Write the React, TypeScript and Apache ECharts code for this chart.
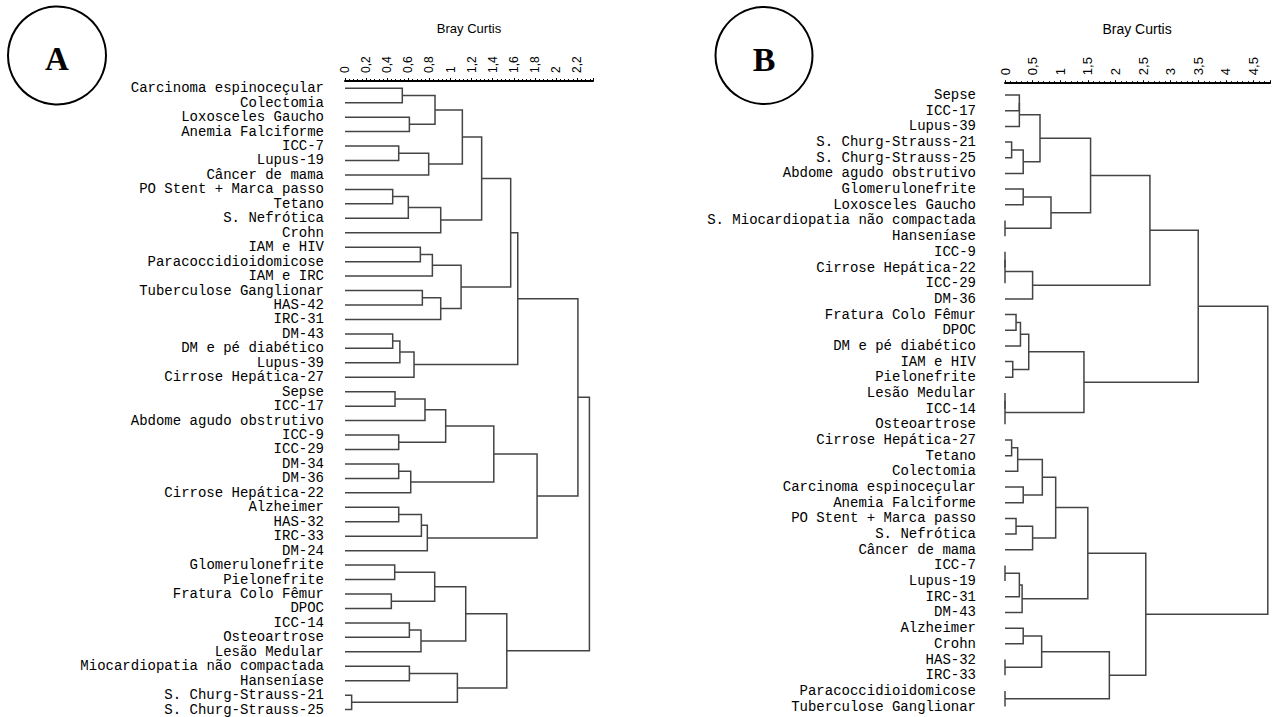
import React, { useEffect, useRef } from "react";
import * as echarts from "echarts";

// ---------- Panel A ----------
const leavesA: string[] = [
  "Carcinoma espinoceçular", "Colectomia", "Loxosceles Gaucho", "Anemia Falciforme",
  "ICC-7", "Lupus-19", "Câncer de mama", "PO Stent + Marca passo", "Tetano",
  "S. Nefrótica", "Crohn", "IAM e HIV", "Paracoccidioidomicose", "IAM e IRC",
  "Tuberculose Ganglionar", "HAS-42", "IRC-31", "DM-43", "DM e pé diabético",
  "Lupus-39", "Cirrose Hepática-27", "Sepse", "ICC-17", "Abdome agudo obstrutivo",
  "ICC-9", "ICC-29", "DM-34", "DM-36", "Cirrose Hepática-22", "Alzheimer",
  "HAS-32", "IRC-33", "DM-24", "Glomerulonefrite", "Pielonefrite",
  "Fratura Colo Fêmur", "DPOC", "ICC-14", "Osteoartrose", "Lesão Medular",
  "Miocardiopatia não compactada", "Hanseníase", "S. Churg-Strauss-21", "S. Churg-Strauss-25",
];
// linkage: [childA, childB, height]; ids < n are leaves, n+k is merge k
const mergesA: [number, number, number][] = [
  [0, 1, 0.543], [2, 3, 0.61], [44, 45, 0.853], [4, 5, 0.509], [47, 6, 0.793],
  [46, 48, 1.112], [7, 8, 0.452], [50, 9, 0.6], [51, 10, 0.907], [49, 52, 1.295],
  [11, 12, 0.714], [54, 13, 0.828], [14, 15, 0.733], [56, 16, 0.907], [55, 57, 1.1],
  [53, 58, 1.57], [17, 18, 0.452], [60, 19, 0.52], [61, 20, 0.654], [59, 62, 1.637],
  [21, 22, 0.474], [64, 23, 0.758], [24, 25, 0.509], [65, 66, 0.954], [26, 27, 0.509],
  [68, 28, 0.623], [67, 69, 1.41], [29, 30, 0.509], [71, 31, 0.724], [72, 32, 0.78],
  [70, 73, 1.82], [63, 74, 2.207], [33, 34, 0.471], [35, 36, 0.439], [76, 77, 0.85],
  [37, 38, 0.61], [79, 39, 0.72], [78, 80, 1.144], [40, 41, 0.61], [42, 43, 0.063],
  [82, 83, 1.065], [81, 84, 1.533], [75, 85, 2.316],
];
const axisA = { max: 2.35, interval: 0.2 };

// ---------- Panel B ----------
const leavesB: string[] = [
  "Sepse", "ICC-17", "Lupus-39", "S. Churg-Strauss-21", "S. Churg-Strauss-25",
  "Abdome agudo obstrutivo", "Glomerulonefrite", "Loxosceles Gaucho",
  "S. Miocardiopatia não compactada", "Hanseníase", "ICC-9", "Cirrose Hepática-22",
  "ICC-29", "DM-36", "Fratura Colo Fêmur", "DPOC", "DM e pé diabético", "IAM e HIV",
  "Pielonefrite", "Lesão Medular", "ICC-14", "Osteoartrose", "Cirrose Hepática-27",
  "Tetano", "Colectomia", "Carcinoma espinoceçular", "Anemia Falciforme",
  "PO Stent + Marca passo", "S. Nefrótica", "Câncer de mama", "ICC-7", "Lupus-19",
  "IRC-31", "DM-43", "Alzheimer", "Crohn", "HAS-32", "IRC-33",
  "Paracoccidioidomicose", "Tuberculose Ganglionar",
];
const mergesB: [number, number, number][] = [
  [0, 1, 0.26], [40, 2, 0.26], [3, 4, 0.12], [42, 5, 0.33], [41, 43, 0.634],
  [6, 7, 0.33], [8, 9, 0], [45, 46, 0.833], [44, 47, 1.55], [10, 11, 0],
  [49, 12, 0], [50, 13, 0.5], [48, 51, 2.625], [14, 15, 0.2], [53, 16, 0.28],
  [17, 18, 0.14], [54, 55, 0.43], [19, 20, 0], [57, 21, 0], [56, 58, 1.43],
  [52, 59, 3.5], [22, 23, 0.12], [61, 24, 0.23], [25, 26, 0.33], [62, 63, 0.676],
  [27, 28, 0.2], [65, 29, 0.5], [64, 66, 0.918], [30, 31, 0], [68, 32, 0.26],
  [69, 33, 0.31], [67, 70, 1.5], [34, 35, 0.33], [36, 37, 0], [72, 73, 0.664],
  [38, 39, 0], [74, 75, 1.89], [71, 76, 2.55], [60, 77, 4.76],
];
const axisB = { max: 4.8, interval: 0.5 };

const axisTitle = "Bray Curtis";
const panelLetters = ["A", "B"];

function buildLinks(n: number, merges: [number, number, number][]) {
  const pos: number[] = [];
  const hgt: number[] = [];
  for (let i = 0; i < n; i++) {
    pos[i] = i;
    hgt[i] = 0;
  }
  const out: number[][] = [];
  merges.forEach(([a, b, h], k) => {
    out.push([hgt[a], pos[a], h, pos[b], hgt[b]]);
    pos[n + k] = (pos[a] + pos[b]) / 2;
    hgt[n + k] = h;
  });
  return out;
}

const fmt = (interval: number) => (v: number) => {
  const r = Math.round(v / interval);
  if (Math.abs(r * interval - v) > 1e-6) return "";
  return String(Number((r * interval).toFixed(2))).replace(".", ",");
};

const LINE = "#444";

function renderLink(params: any, api: any) {
  const p0 = api.coord([api.value(0), api.value(1)]);
  const p1 = api.coord([api.value(2), api.value(1)]);
  const p2 = api.coord([api.value(2), api.value(3)]);
  const p3 = api.coord([api.value(4), api.value(3)]);
  return {
    type: "polyline",
    shape: { points: [p0, p1, p2, p3] },
    style: { stroke: LINE, lineWidth: 1.5, fill: null },
  };
}

function xAxisFor(gridIndex: number, ax: { max: number; interval: number }, fontSize: number, offset: number) {
  return {
    type: "value",
    gridIndex,
    position: "top",
    offset,
    min: 0,
    max: ax.max,
    interval: ax.interval,
    axisLine: { show: true, onZero: false, lineStyle: { color: "#000", width: 2 } },
    axisTick: { show: true, length: 3, lineStyle: { color: "#000", width: 1 } },
    minorTick: { show: true, splitNumber: 5, length: 2, lineStyle: { color: "#000", width: 1 } },
    splitLine: { show: false },
    minorSplitLine: { show: false },
    axisLabel: {
      rotate: -90,
      margin: 8,
      fontSize,
      fontFamily: "Liberation Sans, Arial, sans-serif",
      color: "#000",
      showMaxLabel: false,
      formatter: fmt(ax.interval),
    },
  };
}

function yAxesFor(gridIndex: number, leaves: string[], margin: number) {
  return [
    {
      type: "category",
      gridIndex,
      data: leaves,
      inverse: true,
      boundaryGap: true,
      axisLine: { show: false },
      axisTick: { show: false },
      splitLine: { show: false },
      axisLabel: {
        interval: 0,
        margin,
        fontSize: 14,
        fontFamily: "Liberation Mono, Courier New, monospace",
        color: "#000",
      },
    },
    {
      type: "value",
      gridIndex,
      min: -0.5,
      max: leaves.length - 0.5,
      inverse: true,
      show: false,
      splitLine: { show: false },
    },
  ];
}

export default function App() {
  const ref = useRef<HTMLDivElement>(null);
  useEffect(() => {
    if (!ref.current) return;
    const chart = echarts.init(ref.current, null, { renderer: "svg" });
    const linksA = buildLinks(leavesA.length, mergesA);
    const linksB = buildLinks(leavesB.length, mergesB);
    const bandA = 14.45;
    const bandB = 15.68;
    const option: any = {
      animation: false,
      backgroundColor: "#fff",
      grid: [
        { left: 345, top: 81, width: 248, height: bandA * leavesA.length, containLabel: false },
        { left: 1005, top: 87.2, width: 265, height: bandB * leavesB.length, containLabel: false },
      ],
      xAxis: [xAxisFor(0, axisA, 12, 0), xAxisFor(1, axisB, 13, 4)],
      yAxis: [...yAxesFor(0, leavesA, 21), ...yAxesFor(1, leavesB, 29)],
      series: [
        {
          type: "custom",
          xAxisIndex: 0,
          yAxisIndex: 1,
          data: linksA,
          encode: { x: [0, 2, 4], y: [1, 3] },
          renderItem: renderLink,
          silent: true,
          clip: false,
        },
        {
          type: "custom",
          xAxisIndex: 1,
          yAxisIndex: 3,
          data: linksB,
          encode: { x: [0, 2, 4], y: [1, 3] },
          renderItem: renderLink,
          silent: true,
          clip: false,
        },
      ],
      graphic: [
        {
          type: "text",
          x: 469,
          y: 28.5,
          style: {
            text: axisTitle,
            fontSize: 13,
            fontFamily: "Liberation Sans, Arial, sans-serif",
            fill: "#000",
            align: "center",
            verticalAlign: "middle",
          },
        },
        {
          type: "text",
          x: 1137,
          y: 29,
          style: {
            text: axisTitle,
            fontSize: 14,
            fontFamily: "Liberation Sans, Arial, sans-serif",
            fill: "#000",
            align: "center",
            verticalAlign: "middle",
          },
        },
        {
          type: "circle",
          shape: { cx: 57, cy: 55.5, r: 49 },
          style: { fill: "#fff", stroke: "#000", lineWidth: 2 },
        },
        {
          type: "text",
          x: 57,
          y: 58.5,
          style: {
            text: panelLetters[0],
            fontSize: 33,
            fontWeight: "bold",
            fontFamily: "Liberation Serif, Times New Roman, serif",
            fill: "#000",
            align: "center",
            verticalAlign: "middle",
          },
        },
        {
          type: "circle",
          shape: { cx: 764, cy: 55.5, r: 48.5 },
          style: { fill: "#fff", stroke: "#000", lineWidth: 2 },
        },
        {
          type: "text",
          x: 764,
          y: 59,
          style: {
            text: panelLetters[1],
            fontSize: 34,
            fontWeight: "bold",
            fontFamily: "Liberation Serif, Times New Roman, serif",
            fill: "#000",
            align: "center",
            verticalAlign: "middle",
          },
        },
      ],
    };
    chart.setOption(option);
    return () => chart.dispose();
  }, []);
  return (
    <div
      ref={ref}
      style={{ position: "absolute", left: 0, top: 0, width: 1274, height: 717, background: "#fff" }}
    />
  );
}
